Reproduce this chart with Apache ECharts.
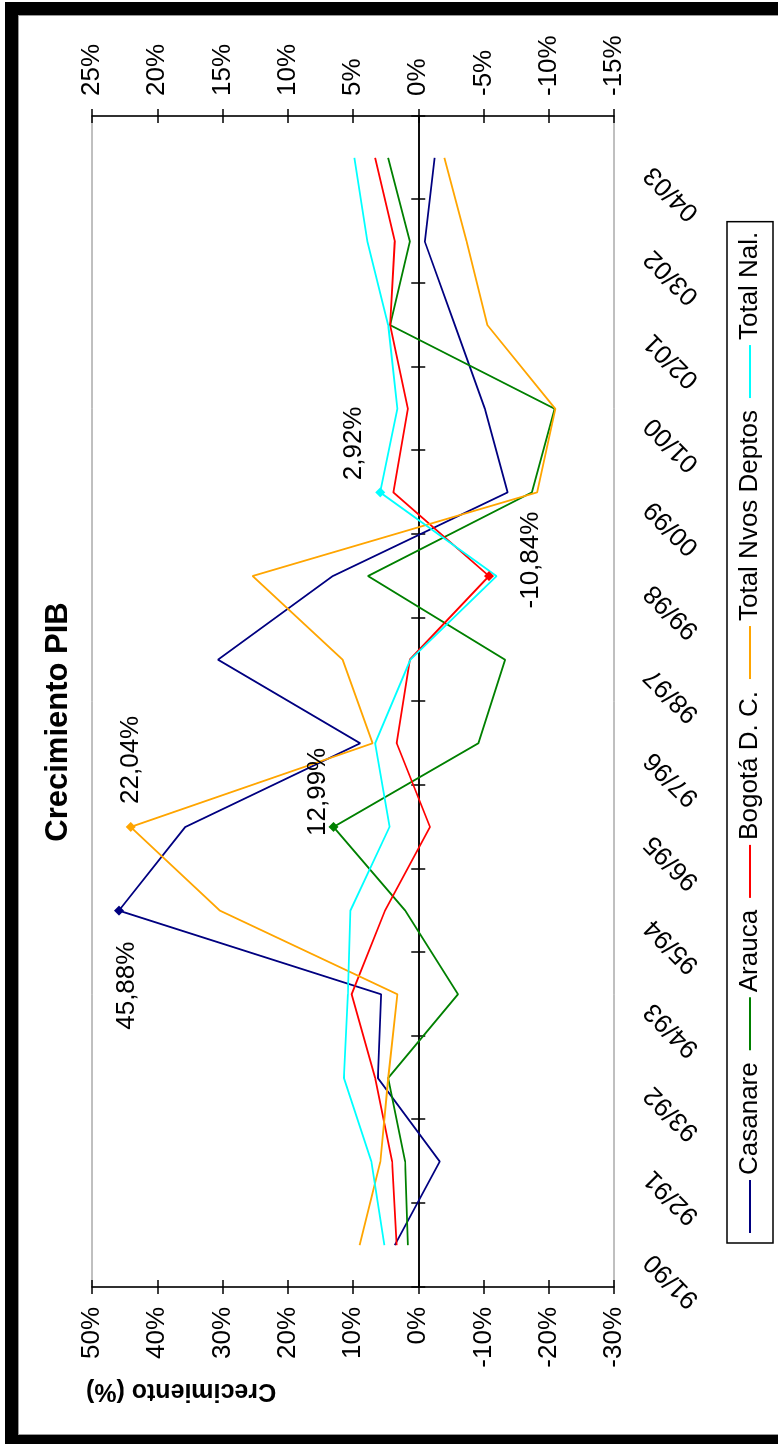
<!DOCTYPE html>
<html>
<head>
<meta charset="utf-8">
<script src="https://cdn.jsdelivr.net/npm/echarts@6/dist/echarts.min.js"></script>
<style>
    html, body { margin: 0; padding: 0; background: #fff; overflow: hidden; }
    #frame {
        position: absolute; left: 5px; top: 2px; width: 800px; height: 1420px;
        border-left: 13px solid #000; border-top: 13px solid #000; border-bottom: 9px solid #000;
    }
    #frame .inner {
        position: absolute; left: 0; top: 0; width: 800px; height: 1418px;
        border-left: 1px solid #999; border-top: 1px solid #999; border-bottom: 1px solid #999;
    }
    /* chart is drawn landscape, then turned a quarter left like the scan */
    #chart {
        position: absolute; left: 0; top: 0; width: 1444px; height: 778px;
        transform-origin: 0 0; transform: translate(0px, 1444px) rotate(-90deg);
    }
</style>
</head>
<body>
<div id="frame"><div class="inner"></div></div>
<div id="chart"></div>
<script>
    var FONT = '"Liberation Sans", Arial, sans-serif';

    var categories = ['91/90', '92/91', '93/92', '94/93', '95/94', '96/95', '97/96',
                      '98/97', '99/98', '00/99', '01/00', '02/01', '03/02', '04/03'];

    // left axis (%)
    var casanare   = [3.6, -3.3, 6.2, 5.7, 45.88, 35.7, 8.9, 30.7, 13.1, -13.7, -10.2, -5.6, -1.0, -2.5];
    var arauca     = [1.6, 2.0, 4.6, -6.1, 2.0, 12.99, -9.2, -13.3, 7.7, -17.4, -20.9, 4.3, 1.3, 4.6];
    var bogota     = [3.3, 4.0, 6.6, 10.2, 5.1, -1.8, 3.3, 1.3, -10.84, 3.8, 1.6, 4.3, 3.6, 6.6];
    // right axis (%)
    var nvosDeptos = [4.5, 2.9, 2.3, 1.6, 15.2, 22.04, 3.5, 5.8, 12.7, -9.1, -10.5, -5.3, -3.7, -2.0];
    var totalNal   = [2.6, 3.6, 5.7, 5.4, 5.2, 2.2, 3.3, 0.6, -6.0, 2.92, 1.6, 2.3, 3.9, 4.9];

    var leftAxis  = {min: -30, max: 50, step: 10};
    var rightAxis = {min: -15, max: 25, step: 5};

    function pct(v) {
        return v.toFixed(2).replace('.', ',') + '%';
    }

    // only one point per series carries a marker and a label
    function points(values, idx, lab) {
        return values.map(function (v, i) {
            if (i !== idx) return v;
            return {
                value: v,
                symbol: 'diamond',
                symbolSize: 10,
                label: Object.assign({
                    show: true,
                    color: '#000',
                    fontSize: 26,
                    fontFamily: FONT,
                    formatter: function (p) { return pct(p.value); }
                }, lab)
            };
        });
    }

    function line(name, color, values, yIdx, idx, lab) {
        return {
            name: name,
            type: 'line',
            yAxisIndex: yIdx,
            symbol: 'none',
            color: color,
            lineStyle: {width: 1.8, color: color},
            itemStyle: {color: color},
            data: points(values, idx, lab)
        };
    }

    var black = {color: '#000', width: 1.5};

    function valAxis(pos, ax, withLabels, inside) {
        return {
            type: 'value',
            position: pos,
            min: ax.min, max: ax.max, interval: ax.step,
            axisLine: {show: withLabels, onZero: false, lineStyle: black},
            axisTick: {show: true, inside: inside, length: 7, lineStyle: black},
            axisLabel: {
                show: withLabels, formatter: '{value}%', color: '#000',
                fontSize: 26, fontFamily: FONT, margin: 20
            },
            splitLine: {show: false}
        };
    }

    function zeroAxis(inside) {
        return {
            type: 'category',
            data: categories,
            position: 'bottom',
            boundaryGap: true,
            axisLine: {show: true, onZero: true, onZeroAxisIndex: 0, lineStyle: black},
            axisTick: {show: true, inside: inside, length: 7, lineStyle: black},
            axisLabel: {show: false}
        };
    }

    var chart = echarts.init(document.getElementById('chart'), null, {renderer: 'canvas'});
    chart.setOption({
        animation: false,
        backgroundColor: 'transparent',
        title: {
            text: 'Crecimiento PIB',
            left: 'center',
            top: 43,
            padding: 0,
            textStyle: {fontSize: 31, fontWeight: 'bold', color: '#000', fontFamily: FONT}
        },
        legend: {
            left: 201,
            top: 727,
            padding: [10, 10],
            icon: 'rect',
            itemWidth: 53,
            itemHeight: 2,
            itemGap: 12,
            selectedMode: false,
            borderColor: '#000',
            borderWidth: 1.5,
            textStyle: {fontSize: 26, color: '#000', fontFamily: FONT}
        },
        grid: {
            left: 157, right: 116, top: 92, bottom: 164,
            show: true, borderColor: '#808080', borderWidth: 1,
            outerBoundsMode: 'none'
        },
        graphic: [{
            type: 'text',
            x: 53, y: 181,
            rotation: Math.PI / 2,
            style: {
                text: 'Crecimiento (%)',
                font: 'bold 25px ' + FONT,
                fill: '#000',
                textAlign: 'center',
                textVerticalAlign: 'middle'
            }
        }],
        xAxis: [{
            type: 'category',
            data: categories,
            position: 'bottom',
            boundaryGap: true,
            axisLine: {show: false, onZero: false},
            axisTick: {show: false},
            axisLabel: {
                interval: 0, rotate: 45, margin: 22, padding: [0, 18, 0, 0],
                color: '#000', fontSize: 26, fontFamily: FONT
            }
        }, zeroAxis(false), zeroAxis(true)],
        yAxis: [
            valAxis('left', leftAxis, true, false),
            valAxis('right', rightAxis, true, false),
            valAxis('left', leftAxis, false, true),
            valAxis('right', rightAxis, false, true)
        ],
        series: [
            line('Casanare', '#000080', casanare, 0, 4, {position: 'left', distance: 26, offset: [0, 8]}),
            line('Arauca', '#008000', arauca, 0, 5, {position: 'right', distance: 0, offset: [-14, -16]}),
            line('Bogotá D. C.', '#ff0000', bogota, 0, 8, {position: 'bottom', distance: 24, offset: [16, 0]}),
            line('Total Nvos Deptos', '#ffa500', nvosDeptos, 1, 5, {position: 'right', distance: 18}),
            line('Total Nal.', '#00ffff', totalNal, 1, 9, {position: 'top', distance: 8, offset: [49, 0]})
        ]
    });
</script>
</body>
</html>
